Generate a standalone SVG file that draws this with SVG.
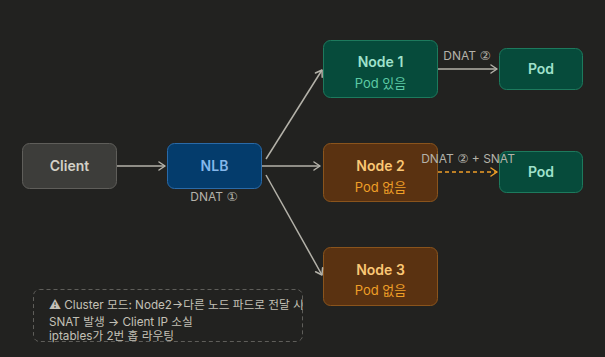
<svg xmlns="http://www.w3.org/2000/svg" width="605" height="357" viewBox="0 0 605 357">
<defs>
<style>
text{font-family:Inter,"Noto Sans","Noto Sans CJK KR",sans-serif;}
.t{font-size:14px;font-weight:600;text-anchor:middle;}
.s{font-size:13px;text-anchor:middle;}
.lbl{font-size:12px;fill:#b4b2a9;text-anchor:middle;}
.c{font-family:"DejaVu Sans",sans-serif;font-size:12.5px;}
.note{font-size:11.7px;fill:#c2c0b6;}
.ln{stroke:#b4b2a9;stroke-width:1.5;fill:none;}
</style>
<marker id="ahg" viewBox="0 0 10 10" refX="8" refY="5" markerWidth="10" markerHeight="10" orient="auto" markerUnits="userSpaceOnUse">
<path d="M2 1L8 5L2 9" fill="none" stroke="#b4b2a9" stroke-width="1.5" stroke-linecap="round" stroke-linejoin="round"/>
</marker>
<marker id="aho" viewBox="0 0 10 10" refX="8" refY="5" markerWidth="10" markerHeight="10" orient="auto" markerUnits="userSpaceOnUse">
<path d="M2 1L8 5L2 9" fill="none" stroke="#ef9f27" stroke-width="1.5" stroke-linecap="round" stroke-linejoin="round"/>
</marker>
</defs>
<rect width="605" height="357" fill="#222220"/>
<g id="client">
<rect x="22.5" y="143.5" width="94" height="45" rx="7" fill="#3d3d3a" stroke="#5f5e5a"/>
<text class="t" x="69.5" y="171" fill="#d3d1c7">Client</text>
</g>
<g id="nlb">
<rect x="167.5" y="143.5" width="94" height="45" rx="7" fill="#043c6c" stroke="#2a6aa8"/>
<text class="t" x="214.5" y="171" fill="#85b7eb">NLB</text>
</g>
<g id="node1">
<rect x="323.5" y="40.5" width="114" height="57" rx="7" fill="#064b3b" stroke="#1d7a5d"/>
<text class="t" x="380.5" y="67" fill="#9fe1cb">Node 1</text>
<text class="s" x="380.5" y="88" fill="#5dcaa5">Pod 있음</text>
</g>
<g id="node2">
<rect x="323.5" y="143.5" width="114" height="58" rx="7" fill="#5a3211" stroke="#8a541c"/>
<text class="t" x="380.5" y="171" fill="#fac775">Node 2</text>
<text class="s" x="380.5" y="192" fill="#ef9f27">Pod 없음</text>
</g>
<g id="node3">
<rect x="323.5" y="247.5" width="114" height="58" rx="7" fill="#5a3211" stroke="#8a541c"/>
<text class="t" x="380.5" y="275" fill="#fac775">Node 3</text>
<text class="s" x="380.5" y="295" fill="#ef9f27">Pod 없음</text>
</g>
<g id="pod1">
<rect x="499.5" y="48.5" width="83" height="41" rx="7" fill="#064b3b" stroke="#1d7a5d"/>
<text class="t" x="541" y="74" fill="#9fe1cb">Pod</text>
</g>
<g id="pod2">
<rect x="499.5" y="151.5" width="83" height="41" rx="7" fill="#064b3b" stroke="#1d7a5d"/>
<text class="t" x="541" y="177" fill="#9fe1cb">Pod</text>
</g>
<g id="connectors">
<line class="ln" x1="117" y1="166" x2="165" y2="166" marker-end="url(#ahg)"/>
<line class="ln" x1="266" y1="159" x2="322" y2="70" marker-end="url(#ahg)"/>
<line class="ln" x1="262" y1="166" x2="320" y2="166" marker-end="url(#ahg)"/>
<line class="ln" x1="266" y1="175" x2="322" y2="275" marker-end="url(#ahg)"/>
<line class="ln" x1="438" y1="69" x2="497" y2="69" marker-end="url(#ahg)"/>
<line x1="438" y1="172" x2="497" y2="172" stroke="#ef9f27" stroke-width="1.5" stroke-dasharray="4 3" fill="none" marker-end="url(#aho)"/>
<text class="lbl" x="467" y="60">DNAT <tspan class="c">②</tspan></text>
<text class="lbl" x="468" y="163">DNAT <tspan class="c">②</tspan> + SNAT</text>
<text class="lbl" x="214" y="201">DNAT <tspan class="c">①</tspan></text>
</g>
<g id="note">
<rect x="33.5" y="289.5" width="269" height="52" rx="6" fill="none" stroke="#5f5e5a" stroke-dasharray="4 3"/>
<text class="note" x="49" y="309">⚠ Cluster 모드: Node2→다른 노드 파드로 전달 시</text>
<text class="note" x="49" y="326">SNAT 발생 → Client IP 소실</text>
<text class="note" x="49" y="340">iptables가 2번 홉 라우팅</text>
</g>
</svg>
